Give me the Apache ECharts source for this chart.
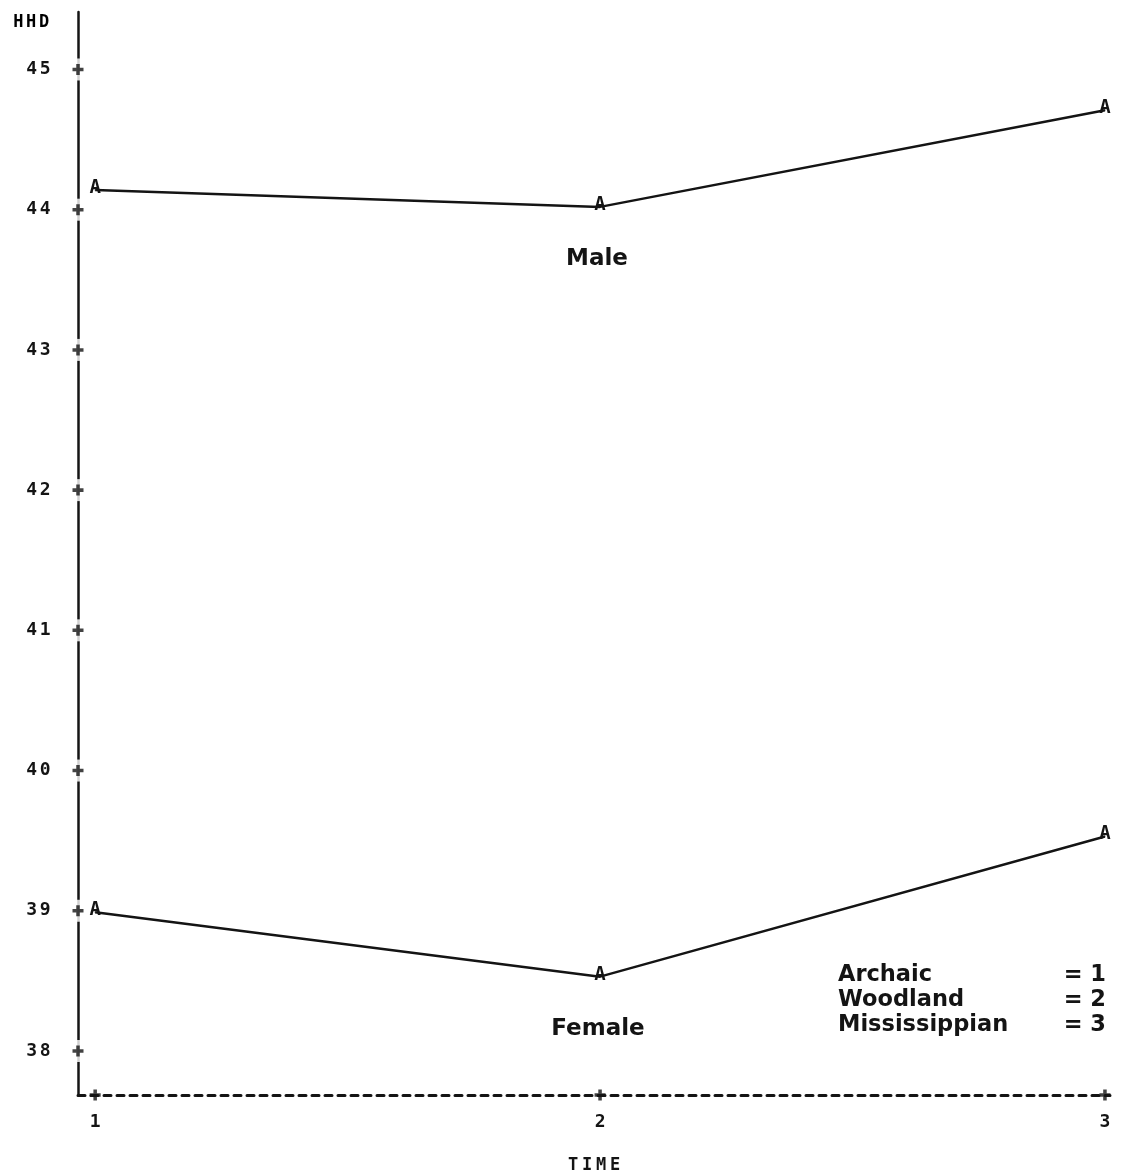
<!DOCTYPE html>
<html>
<head>
<meta charset="utf-8">
<script src="https://cdn.jsdelivr.net/npm/echarts@6/dist/echarts.min.js"></script>
<style>
  html, body { margin: 0; padding: 0; background: #fff; }
  #chart { width: 1121px; height: 1176px; }
</style>
</head>
<body>
<div id="chart"></div>
<script>
// Time periods (1 = Archaic, 2 = Woodland, 3 = Mississippian)
const timePoints = [1, 2, 3];
// Mean HHD by period
const maleHHD = [44.14, 44.02, 44.71];
const femaleHHD = [38.99, 38.53, 39.53];
// Axis tick values
const yTicks = [38, 39, 40, 41, 42, 43, 44, 45];
const xTicks = [1, 2, 3];
// Period key
const periodNames = ['Archaic', 'Woodland', 'Mississippian'];

const X_MIN = 0.966, X_MAX = 3.01;
const Y_MIN = 37.686, Y_MAX = 45.41;
const INK = '#141414';
const MONO = '"DejaVu Sans Mono", monospace';
const SANS = '"DejaVu Sans", Verdana, sans-serif';

// plus-sign glyph used for the tick marks
const PLUS = 'path://M3.4,0 H6.6 V3.4 H10 V6.6 H6.6 V10 H3.4 V6.6 H0 V3.4 H3.4 Z';

function pairs(xs, ys) { return xs.map((x, i) => [x, ys[i]]); }

// printer-style spaced characters: each glyph in a fixed-width cell
function spaced(s) {
  return String(s).split('').map(c => '{c|' + c + '}').join('');
}
function monoRich(cell, size) {
  return { c: { width: cell, align: 'center', fontFamily: MONO, fontWeight: 'bold', fontSize: size, color: INK } };
}

const pointLabel = {
  show: true,
  formatter: 'A',
  position: 'inside',
  offset: [0, -2],
  fontFamily: MONO,
  fontWeight: 'bold',
  fontSize: 19,
  color: INK
};

const chart = echarts.init(document.getElementById('chart'));
chart.setOption({
  backgroundColor: '#ffffff',
  animation: false,
  grid: { left: 78, right: 11, top: 12, bottom: 81, containLabel: false, outerBoundsMode: 'none' },
  xAxis: {
    type: 'value',
    min: X_MIN,
    max: X_MAX,
    name: spaced('TIME'),
    nameLocation: 'middle',
    nameGap: 62,
    nameTextStyle: { rich: monoRich(14, 17) },
    axisLine: { show: true, lineStyle: { color: INK, width: 3, type: [7, 6] } },
    axisTick: { show: false },
    splitLine: { show: false },
    axisLabel: {
      customValues: xTicks,
      margin: 18,
      fontFamily: MONO, fontWeight: 'bold', fontSize: 18, color: INK,
      formatter: v => String(v)
    }
  },
  yAxis: {
    type: 'value',
    min: Y_MIN,
    max: Y_MAX,
    axisLine: { show: true, lineStyle: { color: INK, width: 2.5 } },
    axisTick: { show: false },
    splitLine: { show: false },
    axisLabel: {
      customValues: yTicks,
      margin: 26,
      formatter: v => spaced(v),
      rich: monoRich(13.5, 18)
    }
  },
  series: [
    {
      // white gaps in the vertical axis around each tick
      type: 'scatter', silent: true, clip: false, z: 3,
      symbol: 'rect', symbolSize: [10, 22],
      itemStyle: { color: '#ffffff' },
      data: yTicks.map(v => [X_MIN, v])
    },
    {
      type: 'scatter', silent: true, clip: false, z: 4,
      symbol: PLUS, symbolSize: 11,
      itemStyle: { color: INK },
      data: yTicks.map(v => [X_MIN, v])
    },
    {
      type: 'scatter', silent: true, clip: false, z: 4,
      symbol: PLUS, symbolSize: 11,
      itemStyle: { color: INK },
      data: xTicks.map(v => [v, Y_MIN])
    },
    {
      name: 'Male', type: 'line', z: 5,
      data: pairs(timePoints, maleHHD),
      symbol: 'circle', symbolSize: 1, showSymbol: true,
      itemStyle: { color: INK },
      lineStyle: { color: INK, width: 2.5 },
      label: pointLabel
    },
    {
      name: 'Female', type: 'line', z: 5,
      data: pairs(timePoints, femaleHHD),
      symbol: 'circle', symbolSize: 1, showSymbol: true,
      itemStyle: { color: INK },
      lineStyle: { color: INK, width: 2.5 },
      label: pointLabel
    }
  ],
  graphic: [
    { type: 'text', x: 12, y: 23,
      style: { text: spaced('HHD'), rich: monoRich(12.8, 17), textVerticalAlign: 'middle' } },
    { type: 'text', x: 597, y: 259,
      style: { text: 'Male', font: 'bold 23px ' + SANS, fill: INK, textAlign: 'center', textVerticalAlign: 'middle' } },
    { type: 'text', x: 598, y: 1029,
      style: { text: 'Female', font: 'bold 23px ' + SANS, fill: INK, textAlign: 'center', textVerticalAlign: 'middle' } },
    ...periodNames.map((name, i) => ({
      type: 'text', x: 838, y: 975 + i * 25,
      style: { text: name, font: 'bold 22.5px ' + SANS, fill: INK, textVerticalAlign: 'middle' }
    })),
    ...periodNames.map((name, i) => ({
      type: 'text', x: 1106, y: 975 + i * 25,
      style: { text: '= ' + (i + 1), font: 'bold 22.5px ' + SANS, fill: INK, textAlign: 'right', textVerticalAlign: 'middle' }
    }))
  ]
});
</script>
</body>
</html>
